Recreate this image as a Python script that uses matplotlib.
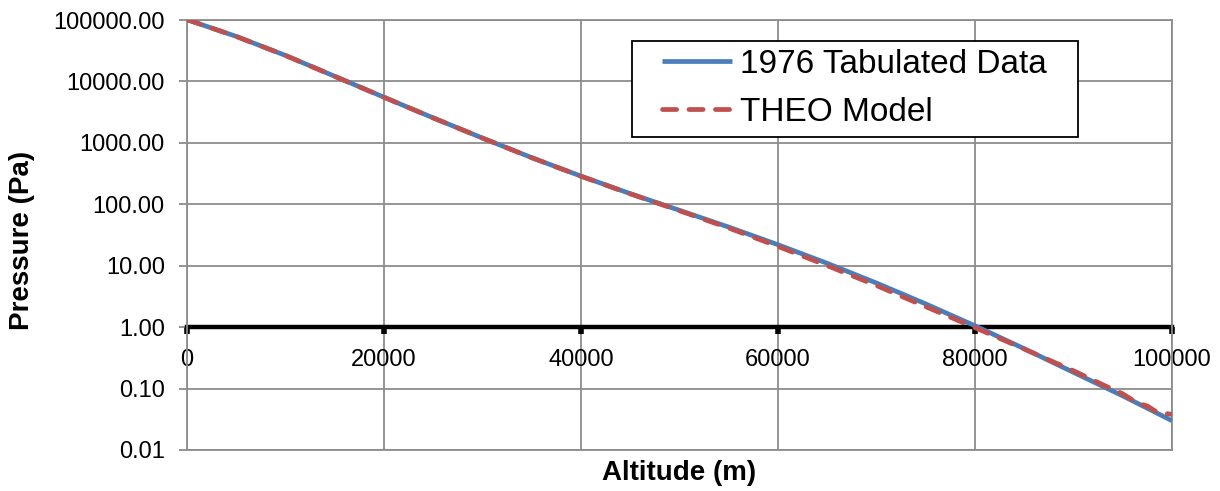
import matplotlib
matplotlib.use("Agg")
import matplotlib.pyplot as plt
from matplotlib.patches import Rectangle
from matplotlib.ticker import FixedLocator, FuncFormatter

plt.rcParams['font.family'] = ['Liberation Sans', 'DejaVu Sans']

# Altitude (m)
alt_tab = [0, 5000, 10000, 15000, 20000, 25000, 30000, 35000, 40000, 45000,
           50000, 55000, 60000, 65000, 70000, 75000, 80000, 85000, 90000, 95000, 100000]
# 1976 tabulated pressure (Pa)
p_tab = [101325, 54048, 26500, 12111, 5529, 2549, 1197, 574.6, 287.1, 149.1,
         79.78, 42.52, 21.96, 10.93, 5.221, 2.388, 1.052, 0.4457, 0.1836, 0.0760, 0.0300]

alt_theo = [0, 5000, 10000, 15000, 20000, 25000, 30000, 35000, 40000, 45000,
            50000, 55000, 60000, 65000, 70000, 75000, 80000, 85000, 90000,
            93000, 95000, 96500, 97500, 98500, 100000]
p_theo = [101325, 54000, 26450, 12100, 5520, 2545, 1195, 573, 286, 148,
          78.5, 41.0, 20.6, 10.0, 4.75, 2.15, 0.98, 0.44, 0.195,
          0.115, 0.082, 0.058, 0.052, 0.041, 0.038]

x_ticks = [0, 20000, 40000, 60000, 80000, 100000]
y_ticks = [0.01, 0.1, 1, 10, 100, 1000, 10000, 100000]

W, H = 1220, 491
L, R, T, B = 187, 1172, 20, 450

fig = plt.figure(figsize=(W/100, H/100), dpi=100)
ax = fig.add_axes([L/W, 1 - B/H, (R-L)/W, (B-T)/H])

def ax_x(px):
    return (px - L) / (R - L)

def ax_y(py):
    return 1 - (py - T) / (B - T)

blue = '#4A7EBB'
red = '#C0504D'
grid_c = '#8C8C8C'

ax.plot(alt_tab, p_tab, color=blue, lw=3.4, solid_capstyle='butt', label='1976 Tabulated Data', zorder=3)
ax.plot(alt_theo, p_theo, color=red, lw=3.4, linestyle=(0, (3.0, 2.6)), dash_capstyle='round',
        label='THEO Model', zorder=4)

ax.set_yscale('log')
ax.set_xlim(0, 100000)
ax.set_ylim(0.01, 100000)

ax.yaxis.set_major_locator(FixedLocator(y_ticks))
ax.yaxis.set_minor_locator(FixedLocator([]))
ax.yaxis.set_major_formatter(FuncFormatter(lambda v, p: f"{v:.2f}"))
ax.xaxis.set_major_locator(FixedLocator(x_ticks))
ax.xaxis.set_major_formatter(FuncFormatter(lambda v, p: f"{int(v)}"))

ax.grid(True, which='major', color=grid_c, lw=1.3, zorder=0)
ax.set_axisbelow(True)

for s in ['left', 'top', 'right']:
    ax.spines[s].set_color(grid_c)
    ax.spines[s].set_linewidth(1.3)
ax.spines['bottom'].set_position(('data', 1))
ax.spines['bottom'].set_color('black')
ax.spines['bottom'].set_linewidth(3.2)
ax.spines['bottom'].set_zorder(2)
ax.axhline(0.01, color=grid_c, lw=1.3, zorder=0, clip_on=False)

ax.tick_params(axis='y', direction='out', length=6, width=1.3, color=grid_c,
               labelsize=17, pad=10, labelcolor='black')
ax.tick_params(axis='x', direction='out', length=5, width=4, color='black',
               labelsize=17, pad=11)

fig.text(22/W, 1 - 240/H, 'Pressure (Pa)', fontsize=20, fontweight='bold',
         ha='center', va='center', rotation=90)
fig.text(679/W, 1 - 473/H, 'Altitude (m)', fontsize=20, fontweight='bold',
         ha='center', va='center')

# legend frame
box = Rectangle((ax_x(632), ax_y(137)), ax_x(1078) - ax_x(632), ax_y(41) - ax_y(137),
                transform=ax.transAxes, facecolor='white', edgecolor='black',
                lw=1.3, zorder=9)
ax.add_patch(box)
leg = ax.legend(loc='upper left', bbox_to_anchor=(ax_x(662), ax_y(49)),
                fontsize=24, frameon=False,
                handlelength=2.1, handletextpad=0.25, borderpad=0, labelspacing=0.5,
                borderaxespad=0)
leg.set_zorder(10)

fig.savefig('out.png', dpi=100, facecolor='white')
